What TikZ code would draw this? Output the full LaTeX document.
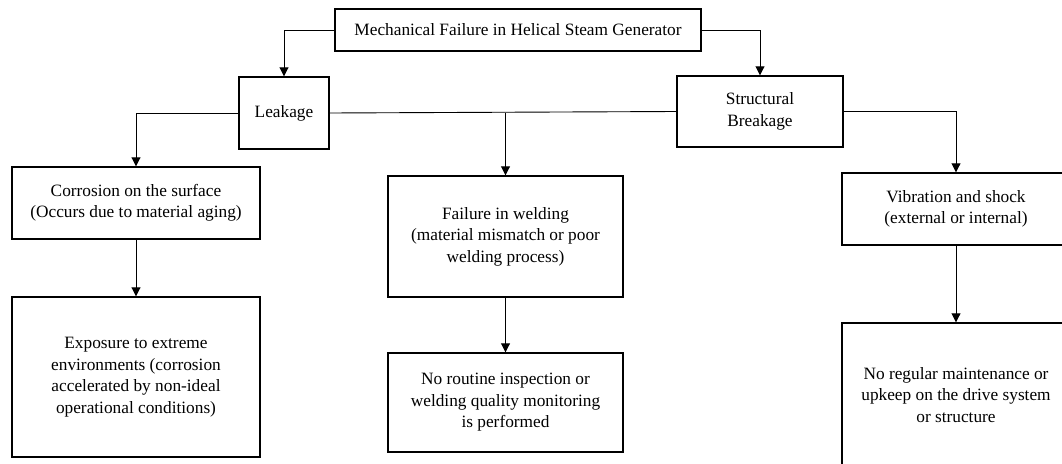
\documentclass[tikz,border=0pt]{standalone}
\usepackage{fontspec}
\setmainfont{Liberation Serif}
\usetikzlibrary{positioning,arrows.meta}
\tikzset{box/.style = {draw,line width=1.4pt,inner sep=0pt,align=center,
            font=\fontsize{17.3}{21.5}\selectfont},
         link/.style = {line width=0.9pt},
         arrow/.style = {link,-{Triangle[width=9pt,length=9pt]}}}

\begin{document}
\begin{tikzpicture}[x=1pt,y=-1pt]
        \useasboundingbox (0,0) rectangle (1062,463);
        \clip (0,0) rectangle (1062,463);
        \begin{scope}
            \node [box,minimum width=366,minimum height=42] (top) at (518,30) {Mechanical Failure in Helical Steam Generator};
            \node [box,minimum width=90,minimum height=72] (leak) at (284,113) {Leakage};
            \node [box,minimum width=166,minimum height=71] (struct) at (760,111.5) {Structural\\Breakage};

            \node [box,minimum width=248,minimum height=72] (corr) at (136,203) {Corrosion on the surface\\(Occurs due to material aging)};
            \node [box,minimum width=248,minimum height=160] (expo) at (136,377) {Exposure to extreme\\environments (corrosion\\accelerated by non-ideal\\operational conditions)};
            \node [box,minimum width=235,minimum height=121] (weld) at (505.5,236.5) {Failure in welding\\(material mismatch or poor\\welding process)};
            \node [box,minimum width=235,minimum height=99] (insp) at (505.5,402.5) {No routine inspection or\\welding quality monitoring\\is performed};
            \node [box,minimum width=228,minimum height=72] (vib) at (956,209) {Vibration and shock\\(external or internal)};
            \node [box,minimum width=228,minimum height=144] (maint) at (956,395) {No regular maintenance or\\upkeep on the drive system\\or structure};

            \coordinate (split) at (weld.north |- leak.east);

            \draw [arrow] (top.west) -| (leak.north);
            \draw [arrow] (top.east) -| (struct.north);
            \draw [link] (leak.east) -- (struct.west);
            \draw [arrow] (split) -- (weld.north);
            \draw [arrow] (leak.west) -| (corr.north);
            \draw [arrow] (struct.east) -| (vib.north);
            \draw [arrow] (corr) -- (expo);
            \draw [arrow] (weld) -- (insp);
            \draw [arrow] (vib) -- (maint);
        \end{scope}
    \end{tikzpicture}
\end{document}
